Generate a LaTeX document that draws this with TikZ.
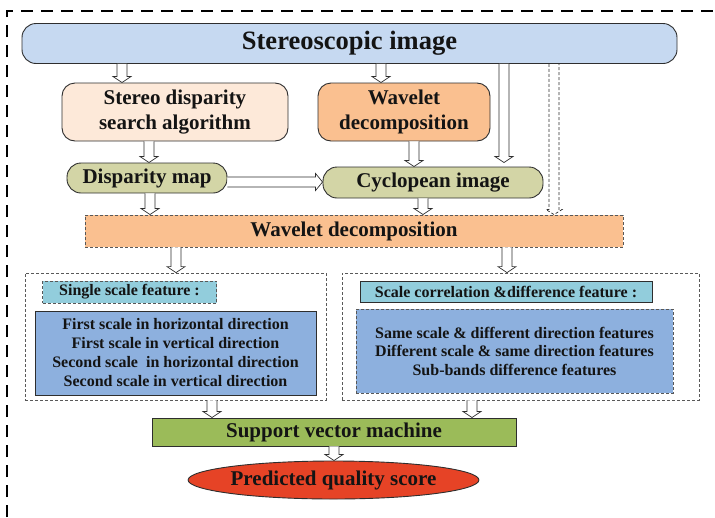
\documentclass[tikz,border=0pt]{standalone}
\usepackage{fontspec}
\setmainfont{Liberation Serif}
\usetikzlibrary{calc,shapes.geometric}
\definecolor{cTop}{HTML}{C6D9F1}
\definecolor{cSda}{HTML}{FDE9D9}
\definecolor{cWav}{HTML}{FAC090}
\definecolor{cOli}{HTML}{D3D5A6}
\definecolor{cCyan}{HTML}{92CDDC}
\definecolor{cBlue}{HTML}{8DB0DE}
\definecolor{cSvm}{HTML}{9BBB59}
\definecolor{cRed}{HTML}{E64326}
\definecolor{cBord}{HTML}{2E2E2E}
\definecolor{cTxt}{HTML}{141414}
\newcommand\fs[2]{\fontsize{#1}{#2}\selectfont}
\tikzset{
  box/.style={draw=cBord, line width=0.9pt, align=center, inner sep=0pt, text=cTxt, font=\bfseries},
  rbox/.style={box, rounded corners=13pt},
  dbox/.style={box, draw=cBord!80, dash pattern=on 3pt off 2pt},
  panel/.style={draw=black!65, line width=0.8pt, dash pattern=on 3pt off 2pt},
  harrow/.style={draw=cBord, line width=0.7pt, fill=white},
  darrow/.style={draw=cBord, line width=0.7pt, dash pattern=on 3pt off 2pt},
}
% vertical hollow arrow: #2 start, #3 end
\newcommand\varr[3][]{%
  \draw[harrow,#1] let \p1=#2, \p2=#3 in
    (\x1-5pt,\y1) -- (\x1-5pt,\y2+6pt) -- (\x1-9pt,\y2+6pt) -- (\x1,\y2)
    -- (\x1+9pt,\y2+6pt) -- (\x1+5pt,\y2+6pt) -- (\x1+5pt,\y1);}
\begin{document}
\begin{tikzpicture}[x=1pt,y=-1pt]
\useasboundingbox (0,0) rectangle (715,517);
% outer dashed frame
\draw[line width=1.4pt, dash pattern=on 12pt off 8pt] (7,517) -- (7,11) -- (715,11);
% nodes
\node[rbox, fill=cTop, minimum width=655pt, minimum height=40pt, rounded corners=14pt,
      font=\bfseries\fs{26.5}{30}] (top) at (349.5,43.5) {Stereoscopic image};
\node[rbox, fill=cSda, minimum width=226pt, minimum height=58pt,
      font=\bfseries\fs{21}{25}] (sda) at (175,112) {Stereo disparity\\search algorithm};
\node[rbox, fill=cWav, minimum width=172pt, minimum height=58pt,
      font=\bfseries\fs{21}{25}] (wav1) at (404,112) {Wavelet\\decomposition};
\node[rbox, fill=cOli, minimum width=160pt, minimum height=30pt, rounded corners=14pt,
      font=\bfseries\fs{21}{25}] (dmap) at (147,178) {Disparity map};
\node[rbox, fill=cOli, minimum width=220pt, minimum height=31pt, rounded corners=14pt,
      font=\bfseries\fs{21}{25}] (cyc) at (433,182.5) {Cyclopean image};
\node[dbox, fill=cWav, minimum width=538pt, minimum height=32pt,
      font=\bfseries\fs{21}{25}] (wav2) at (354,231) {Wavelet decomposition};
\node[panel, minimum width=301pt, minimum height=127pt, inner sep=0pt] (lpanel) at (175.5,336.5) {};
\node[panel, minimum width=357pt, minimum height=127pt, inner sep=0pt] (rpanel) at (520.5,336.5) {};
\node[dbox, fill=cCyan, minimum width=174pt, minimum height=22pt,
      font=\bfseries\fs{16}{19}] (ssf) at (129.5,292) {Single scale feature :};
\node[box, fill=cBlue, minimum width=281pt, minimum height=84pt,
      font=\bfseries\fs{16}{19}] (lblue) at (175.5,353)
      {First scale in horizontal direction\\First scale in vertical direction\\Second scale~ in horizontal direction\\Second scale in vertical direction};
\node[box, fill=cCyan, minimum width=292pt, minimum height=21pt,
      font=\bfseries\fs{16}{19}] (scf) at (506,291.5) {Scale correlation \&difference feature :};
\node[dbox, fill=cBlue, minimum width=317pt, minimum height=84pt,
      font=\bfseries\fs{16}{18.5}] (rblue) at (514.5,351)
      {Same scale \& different direction features\\Different scale \& same direction features\\Sub-bands difference features};
\node[box, fill=cSvm, minimum width=364pt, minimum height=28pt,
      font=\bfseries\fs{21}{25}] (svm) at (334,432) {Support vector machine};
\node[box, ellipse, fill=cRed, minimum width=287pt, minimum height=38pt,
      font=\bfseries\fs{21}{25}] (pred) at (333.5,480) {Predicted quality score};
% x guides for arrows
\coordinate (a1) at (122,0);
\coordinate (a2) at (381,0);
\coordinate (a3) at (504,0);
\coordinate (a4) at (554,0);
\coordinate (a5) at (149,0);
\coordinate (a6) at (414,0);
\coordinate (a7) at (150,0);
\coordinate (a8) at (423,0);
\coordinate (a9) at (176,0);
\coordinate (a10) at (507,0);
\coordinate (a11) at (212,0);
\coordinate (a12) at (472,0);
\coordinate (a13) at (334,0);
% arrows
\varr{(top.south -| a1)}{(sda.north -| a1)}
\varr{(top.south -| a2)}{(wav1.north -| a2)}
\varr{(top.south -| a3)}{($(cyc.north -| a3)+(0,-4)$)}
\draw[darrow] let \p1=(top.south -| a4), \p2=(wav2.north -| a4) in
    (\x1-5pt,\y1) -- (\x1-5pt,\y2+5pt) -- (\x1-8pt,\y2+5pt) -- (\x1,\y2)
    -- (\x1+8pt,\y2+5pt) -- (\x1+5pt,\y2+5pt) -- (\x1+5pt,\y1);
\varr{(sda.south -| a5)}{(dmap.north -| a5)}
\varr{(wav1.south -| a6)}{(cyc.north -| a6)}
\varr{(dmap.south -| a7)}{(wav2.north -| a7)}
\varr{(cyc.south -| a8)}{(wav2.north -| a8)}
\varr{(wav2.south -| a9)}{(lpanel.north -| a9)}
\varr{(wav2.south -| a10)}{(rpanel.north -| a10)}
\varr{(lpanel.south -| a11)}{(svm.north -| a11)}
\varr{(rpanel.south -| a12)}{(svm.north -| a12)}
\varr{(svm.south -| a13)}{(pred.north -| a13)}
% horizontal arrow disparity map -> cyclopean image
\draw[harrow] let \p1=(dmap.east), \p2=(cyc.west) in
    (\x1,-182pt+5pt) -- (\x2-7pt,-182pt+5pt) -- (\x2-7pt,-182pt+8.5pt) -- (\x2,-182pt)
    -- (\x2-7pt,-182pt-8.5pt) -- (\x2-7pt,-182pt-5pt) -- (\x1,-182pt-5pt);
\end{tikzpicture}
\end{document}
